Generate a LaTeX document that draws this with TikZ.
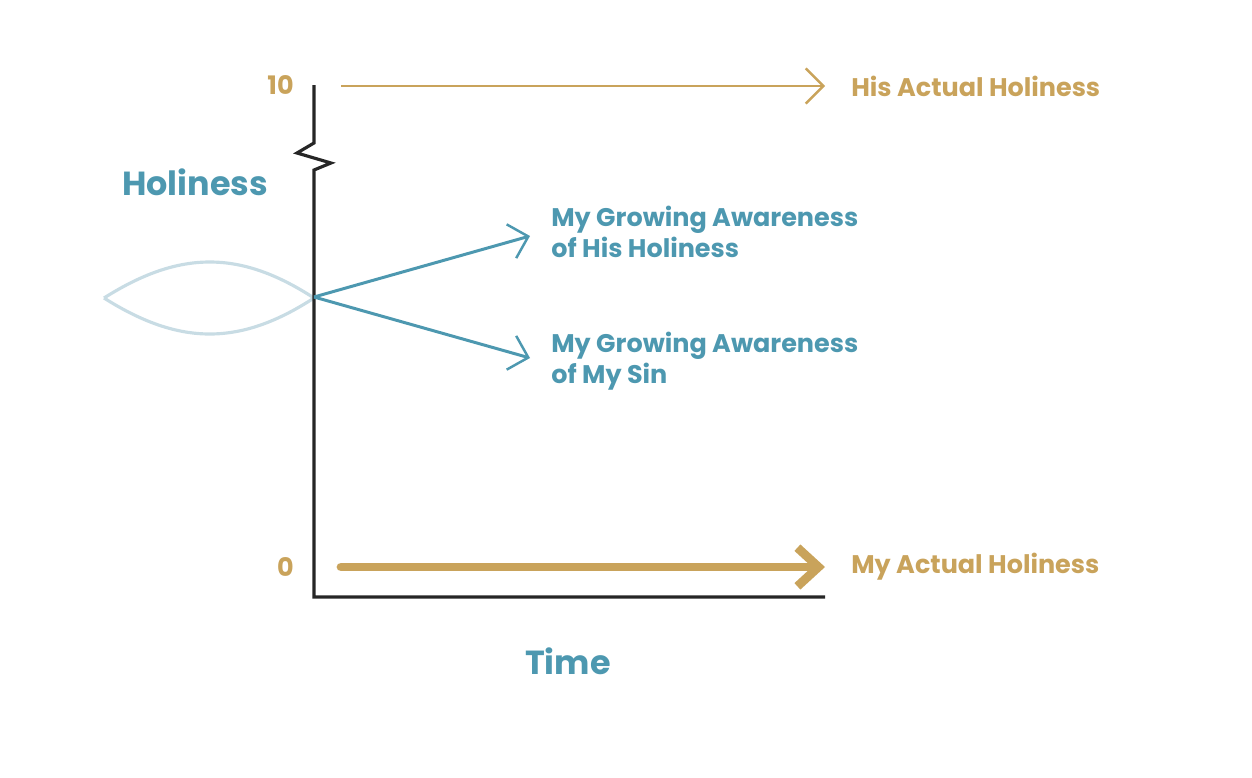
\documentclass[tikz,border=0pt]{standalone}
\usepackage{fontspec}
\setmainfont{Poppins}
\usetikzlibrary{arrows.meta}
\definecolor{hgold}{RGB}{201,163,91}
\definecolor{hblue}{RGB}{77,152,176}
\definecolor{hlens}{RGB}{200,220,228}
\tikzset{
  lbl/.style={font=\bfseries\fontsize{14.5}{17.5}\selectfont, inner sep=0pt, align=left, anchor=west},
  barb/.style={-{Straight Barb[length=10pt,width=20pt,line width=1.4pt]}},
}
\begin{document}
\begin{tikzpicture}[x=0.02cm,y=-0.02cm]
  \useasboundingbox (0,0) rectangle (1252,778);

  % lens behind the axis
  \draw [hlens, line width=1.8pt] (104,298) .. controls (180,250) and (240,250) .. (314,298)
    .. controls (240,346) and (180,346) .. (104,298);

  % axes with break
  \draw [black!85, line width=1.8pt] (314,85) -- (314,143) -- (297,153) -- (331,163) -- (314,170)
    -- (314,597) -- (825,597);

  \coordinate (o) at (314,297);
  \coordinate (hstart) at (341,86);
  \coordinate (hend) at (825,86);
  \coordinate (mstart) at (341,567);
  \coordinate (mend) at (825,567);
  \coordinate (up) at (530,236);
  \coordinate (dn) at (530,358);

  \draw [hgold, line width=1.7pt, barb] (hstart) -- (hend);
  \draw [hgold, line width=5pt, line cap=round, -{Straight Barb[length=12pt,width=22pt,line width=5pt]}] (mstart) -- (mend);
  \draw [hblue, line width=1.7pt, barb] (o) -- (up);
  \draw [hblue, line width=1.7pt, barb] (o) -- (dn);

  \node [lbl, text=hgold, anchor=east] (ten) at (294,85) {10};
  \node [lbl, text=hgold, anchor=east] (zero) at (294,567) {0};
  \node [lbl, text=hgold] (his) at (851,86) {His Actual Holiness};
  \node [lbl, text=hgold] (mine) at (851,567) {My Actual Holiness};
  \node [lbl, text=hblue] (aware1) at (551,232) {My Growing Awareness\\of His Holiness};
  \node [lbl, text=hblue] (aware2) at (551,361) {My Growing Awareness\\of My Sin};
  \node [lbl, text=hblue, anchor=center, font=\bfseries\fontsize{19}{22}\selectfont] (yax) at (195,182) {Holiness};
  \node [lbl, text=hblue, anchor=center, font=\bfseries\fontsize{19}{22}\selectfont] (xax) at (568,661) {Time};
\end{tikzpicture}
\end{document}
